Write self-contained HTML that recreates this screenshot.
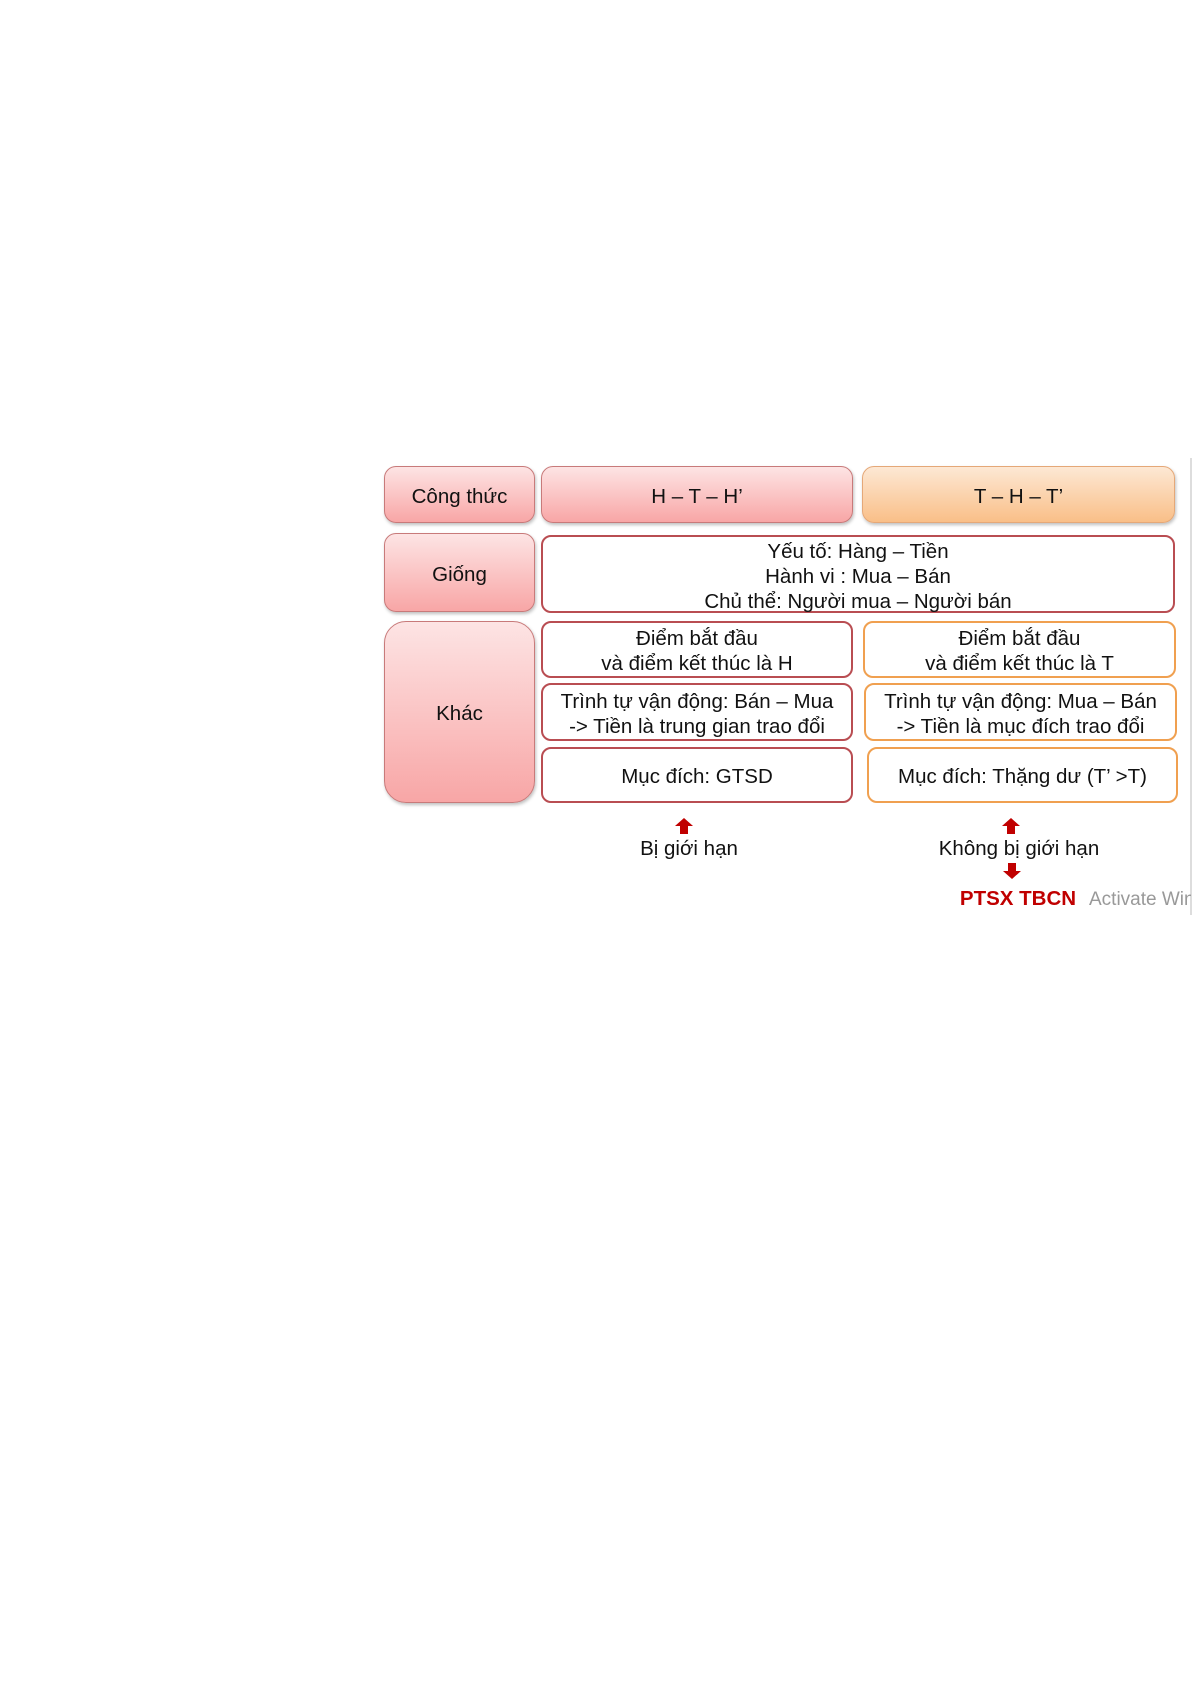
<!DOCTYPE html>
<html><head><meta charset="utf-8"><style>
body{margin:0;width:1192px;height:1685px;background:#fff;position:relative;font-family:"Liberation Sans",sans-serif;color:#111;overflow:hidden}
.b{position:absolute;box-sizing:border-box;display:flex;align-items:center;justify-content:center;text-align:center;font-size:20.5px;line-height:25px;border-radius:12px;padding-top:3px}
.p{background:linear-gradient(#fde4e4,#f8a6a6);border:1.5px solid #c87a7a;box-shadow:1px 2px 3px rgba(0,0,0,.25)}
.o{background:linear-gradient(#fde8d4,#f9bf88);border:1.5px solid #e5a878;box-shadow:1px 2px 3px rgba(0,0,0,.25)}
.wr{background:#fff;border:2.5px solid #b94d52;border-radius:10px}
.wo{background:#fff;border:2.5px solid #f0a050;border-radius:10px}
.t{position:absolute;font-size:20.5px;transform:translateX(-50%);white-space:nowrap}
</style></head><body>
<div class="b p" style="left:384px;top:466px;width:151px;height:57px">Công thức</div>
<div class="b p" style="left:541px;top:466px;width:312px;height:57px">H – T – H’</div>
<div class="b o" style="left:862px;top:466px;width:313px;height:57px">T – H – T’</div>
<div class="b p" style="left:384px;top:533px;width:151px;height:79px">Giống</div>
<div class="b wr" style="left:541px;top:535px;width:634px;height:78px;padding-top:4px">Yếu tố: Hàng – Tiền<br>Hành vi : Mua – Bán<br>Chủ thể: Người mua – Người bán</div>
<div class="b p" style="left:384px;top:621px;width:151px;height:182px;border-radius:22px">Khác</div>
<div class="b wr" style="left:541px;top:621px;width:312px;height:57px">Điểm bắt đầu<br>và điểm kết thúc là H</div>
<div class="b wo" style="left:863px;top:621px;width:313px;height:57px">Điểm bắt đầu<br>và điểm kết thúc là T</div>
<div class="b wr" style="left:541px;top:683px;width:312px;height:58px">Trình tự vận động: Bán – Mua<br>-&gt; Tiền là trung gian trao đổi</div>
<div class="b wo" style="left:864px;top:683px;width:313px;height:58px">Trình tự vận động: Mua – Bán<br>-&gt; Tiền là mục đích trao đổi</div>
<div class="b wr" style="left:541px;top:747px;width:312px;height:56px">Mục đích: GTSD</div>
<div class="b wo" style="left:867px;top:747px;width:311px;height:56px">Mục đích: Thặng dư (T’ &gt;T)</div>
<svg style="position:absolute;left:0;top:0" width="1192" height="1685">
<path d="M684 818 L693 826 L688 826 L688 834 L680 834 L680 826 L675 826Z" fill="#c00000"/>
<path d="M1011 818 L1020 826 L1015 826 L1015 834 L1007 834 L1007 826 L1002 826Z" fill="#c00000"/>
<path d="M1012 879 L1021 871 L1016 871 L1016 863 L1008 863 L1008 871 L1003 871Z" fill="#c00000"/>
<line x1="1191" y1="458" x2="1191" y2="915" stroke="#bbb" stroke-width="1"/>
</svg>
<div class="t" style="left:689px;top:837px">Bị giới hạn</div>
<div class="t" style="left:1019px;top:837px">Không bị giới hạn</div>
<div class="t" style="left:1018px;top:887px;color:#c00000;font-weight:bold">PTSX TBCN</div>
<div style="position:absolute;left:1089px;top:889px;font-size:19px;color:#999;white-space:nowrap;width:102px;overflow:hidden">Activate Windows</div>
</body></html>
